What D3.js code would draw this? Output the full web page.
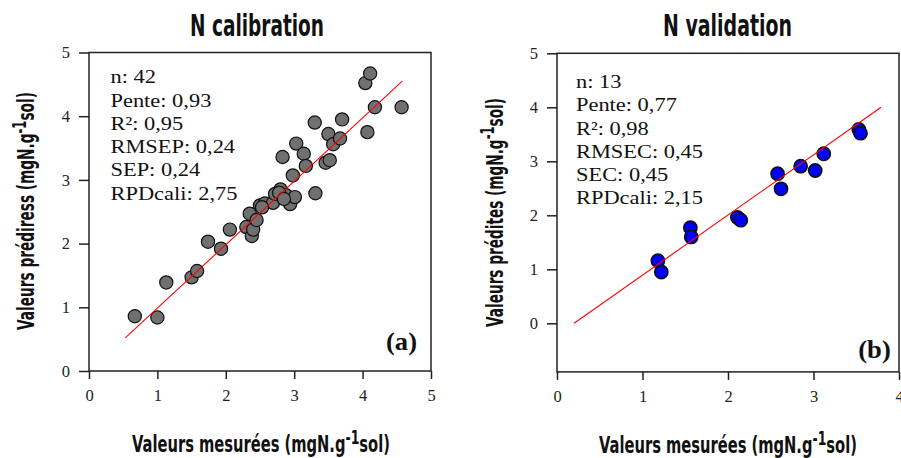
<!DOCTYPE html>
<html><head><meta charset="utf-8">
<script src="https://cdn.jsdelivr.net/npm/d3@7"></script>
<style>
html,body{margin:0;padding:0;background:#fff;}
svg{display:block;}
</style>
</head><body>
<svg id="chart" width="901" height="458"></svg>
<script>
// ---- data ----
const calMeasured  = [0.67,1.00,1.13,1.50,1.58,1.74,1.93,2.06,2.30,2.35,2.38,2.40,2.45,2.50,2.57,2.69,2.72,2.80,2.88,2.94,3.01,2.83,2.98,3.03,3.14,3.17,3.30,3.31,3.46,3.52,3.50,3.57,3.67,3.70,4.07,4.04,4.11,4.18,4.57,2.78,2.85,2.53];
const calPredicted = [0.86,0.84,1.39,1.47,1.57,2.03,1.92,2.22,2.26,2.47,2.12,2.22,2.37,2.60,2.63,2.64,2.78,2.85,2.76,2.62,2.73,3.36,3.07,3.57,3.41,3.22,3.90,2.79,3.27,3.31,3.72,3.56,3.65,3.95,3.75,4.52,4.67,4.14,4.14,2.80,2.70,2.57];
const valMeasured  = [1.18,1.22,1.56,1.57,2.11,2.15,2.58,2.62,2.85,3.02,3.12,3.53,3.55];
const valPredicted = [1.16,0.95,1.77,1.60,1.96,1.91,2.77,2.49,2.91,2.83,3.14,3.59,3.52];
const calLineX = [0.53, 4.58], calLineY = [0.52, 4.55];
const valLineX = [0.20, 3.79], valLineY = [0.00, 4.00];
const calTicksX = [0,1,2,3,4,5], calTicksY = [0,1,2,3,4,5];
const valTicksX = [0,1,2,3,4],   valTicksY = [0,1,2,3,4,5];
const calStats = ["n: 42","Pente: 0,93","R²: 0,95","RMSEP: 0,24","SEP: 0,24","RPDcali: 2,75"];
const valStats = ["n: 13","Pente: 0,77","R²: 0,98","RMSEC: 0,45","SEC: 0,45","RPDcali: 2,15"];
const titles = ["N calibration","N validation"];
const yLabels = ["Valeurs prédiress (mgN.g","Valeurs prédites (mgN.g"];
const xLabelMain = "Valeurs mesurées (mgN.g";
const panelTags = ["(a)","(b)"];

const svg = d3.select("#chart");
const condensed = "'DejaVu Sans Condensed','Liberation Sans Narrow','DejaVu Sans',sans-serif";
const serif = "'Liberation Serif','Times New Roman',serif";

function fit(textSel, target, pre){
  const w = textSel.node().getBBox().width;
  const s = target / w;
  textSel.attr("transform", pre + ` scale(${s},1)`);
}

function label(g, main, x, y, target, rotate, size){
  const t = g.append("text").attr("x",0).attr("y",0)
    .attr("text-anchor","middle").attr("font-family",condensed)
    .attr("font-weight","bold").attr("font-size",size).attr("fill","#111");
  t.append("tspan").text(main);
  t.append("tspan").attr("font-size",size*0.85).attr("dy",-size*0.36).text("-1");
  t.append("tspan").attr("dy",size*0.36).text("sol)");
  fit(t, target, rotate ? `translate(${x},${y}) rotate(-90)` : `translate(${x},${y})`);
}

function panel(cfg){
  const x = d3.scaleLinear().domain(cfg.xd).range(cfg.xr);
  const y = d3.scaleLinear().domain(cfg.yd).range(cfg.yr);
  const g = svg.append("g");

  // frame
  g.append("rect").attr("x",cfg.xr[0]).attr("y",cfg.yr[1])
    .attr("width",cfg.xr[1]-cfg.xr[0]).attr("height",cfg.yr[0]-cfg.yr[1])
    .attr("fill","none").attr("stroke","#222").attr("stroke-width",1.5);

  const ax = g.append("g").attr("transform",`translate(0,${cfg.yr[0]})`)
    .call(d3.axisBottom(x).tickValues(cfg.tx).tickFormat(d3.format("d")).tickSizeInner(8).tickSizeOuter(0).tickPadding(10));
  const ay = g.append("g").attr("transform",`translate(${cfg.xr[0]},0)`)
    .call(d3.axisLeft(y).tickValues(cfg.ty).tickFormat(d3.format("d")).tickSizeInner(10).tickSizeOuter(0).tickPadding(9));
  [ax,ay].forEach(a=>{
    a.select(".domain").remove();
    a.selectAll("line").attr("stroke","#222").attr("stroke-width",1.5);
    a.selectAll("text").attr("font-family",serif).attr("font-size",16.5).attr("fill","#222");
  });

  // points
  g.append("g").selectAll("circle").data(cfg.mx.map((v,i)=>[v,cfg.my[i]])).join("circle")
    .attr("cx",d=>x(d[0])).attr("cy",d=>y(d[1])).attr("r",6.6)
    .attr("fill",cfg.fill).attr("stroke","#111").attr("stroke-width",cfg.sw);

  // regression line
  g.append("line").attr("x1",x(cfg.lx[0])).attr("y1",y(cfg.ly[0]))
    .attr("x2",x(cfg.lx[1])).attr("y2",y(cfg.ly[1]))
    .attr("stroke","#ff0000").attr("stroke-width",1.1);

  // stats
  const st = g.append("g").attr("transform",`translate(${cfg.sx},${cfg.sy}) scale(1.15,1)`);
  st.selectAll("text").data(cfg.stats).join("text")
    .attr("x",0).attr("y",(d,i)=>i*23.3)
    .attr("font-family",serif).attr("font-size",19.5).attr("fill","#111").text(d=>d);

  // tag
  const tg = g.append("text")
    .attr("text-anchor","middle").attr("font-family",serif).attr("font-weight","bold")
    .attr("font-size",25).attr("fill","#111").text(cfg.tag);
  fit(tg, cfg.tagW, `translate(${cfg.tagX},${cfg.tagY})`);

  // title
  const t = g.append("text").attr("text-anchor","middle").attr("font-family",condensed)
    .attr("font-weight","bold").attr("font-size",31).attr("fill","#111").text(cfg.title);
  fit(t, cfg.titleW, `translate(${cfg.titleX},36)`);

  label(g, xLabelMain, cfg.xlX, cfg.xlY, 258, false, 23);
  label(g, cfg.ylab, cfg.ylX, cfg.ylY, cfg.ylW, true, 23);
}

panel({xd:[0,5], xr:[89,431], yd:[0,5], yr:[371,52.5], tx:calTicksX, ty:calTicksY,
  mx:calMeasured, my:calPredicted, fill:"#707070", sw:1.2, lx:calLineX, ly:calLineY,
  stats:calStats, sx:110.5, sy:83.3, tag:panelTags[0], tagX:401.5, tagY:350, tagW:31,
  title:titles[0], titleX:257, titleW:134, xlX:261, xlY:452, ylab:yLabels[0], ylX:34, ylY:211, ylW:238});

panel({xd:[0,4], xr:[557,899], yd:[-0.9,5], yr:[371.9,53.3], tx:valTicksX, ty:valTicksY,
  mx:valMeasured, my:valPredicted, fill:"#0000ff", sw:1.6, lx:valLineX, ly:valLineY,
  stats:valStats, sx:576, sy:88, tag:panelTags[1], tagX:874.5, tagY:358, tagW:32.5,
  title:titles[1], titleX:727.5, titleW:129, xlX:728, xlY:453, ylab:yLabels[1], ylX:502.5, ylY:212.5, ylW:229});
</script>
</body></html>
